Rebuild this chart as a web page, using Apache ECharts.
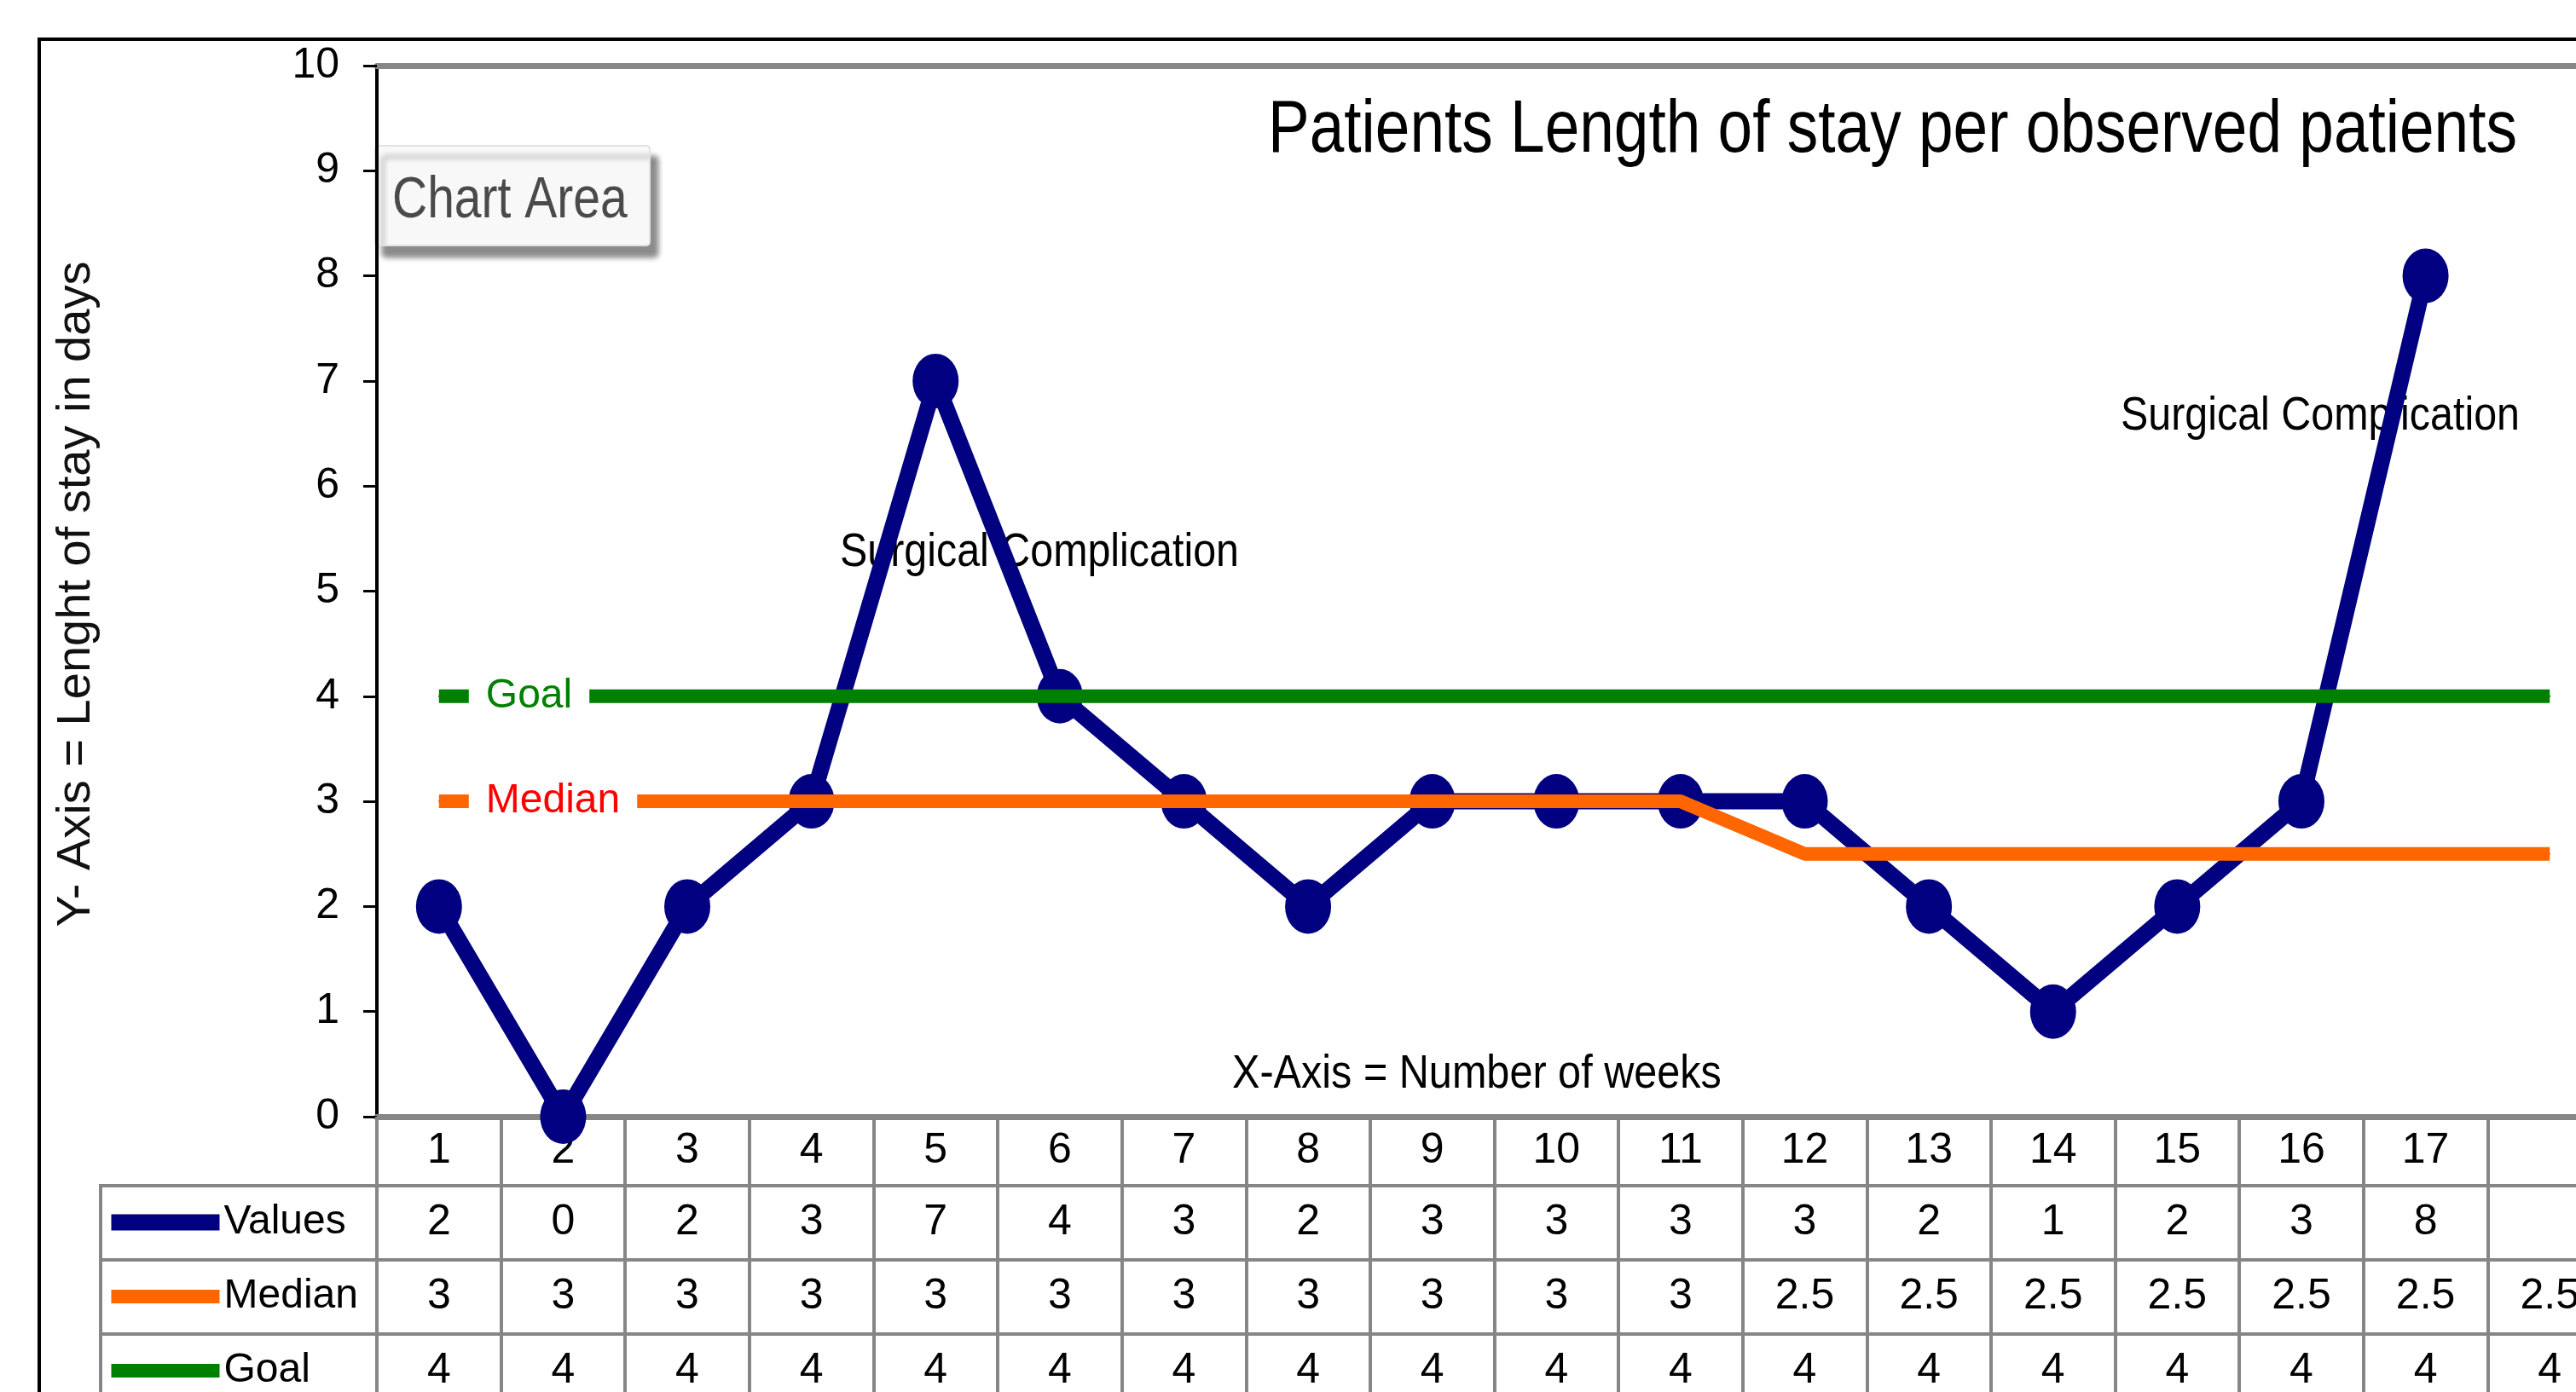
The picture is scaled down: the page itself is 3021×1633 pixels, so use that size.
<!DOCTYPE html>
<html>
<head>
<meta charset="utf-8">
<script src="https://cdn.jsdelivr.net/npm/echarts/dist/echarts.min.js"></script>
<style>
html,body{margin:0;padding:0;background:#fff;}
#chart{width:3021px;height:1633px;}
</style>
</head>
<body>
<div id="chart"></div>
<script>
// ---- data ----
const categories = ['1','2','3','4','5','6','7','8','9','10','11','12','13','14','15','16','17',''];
const valuesData = [2,0,2,3,7,4,3,2,3,3,3,3,2,1,2,3,8];
const medianData = [3,3,3,3,3,3,3,3,3,3,3,2.5,2.5,2.5,2.5,2.5,2.5,2.5];
const goalData   = [4,4,4,4,4,4,4,4,4,4,4,4,4,4,4,4,4,4];
const seriesNames = ['Values','Median','Goal'];
const titleText = 'Patients Length of stay per observed patients';
const yAxisTitle = 'Y- Axis = Lenght of stay in days';
const xAxisTitle = 'X-Axis = Number of weeks';
const annotationText = 'Surgical Complication';

// ---- styling ----
const fontR = "'Liberation Sans',Arial,sans-serif";
const GRIDC = '#868686';
const NAVY = '#000080', ORANGE = '#FF6600', GREEN = '#008000';
const LBL = 48;      // legend / series label texts
const NUM = 50;      // axis and table numbers
const STRETCH = 1.16; // vertical stretch of free texts (narrow-font look)

function rowLabels(arr){ return categories.map((c,i)=> (arr[i]==null ? '' : String(arr[i]))); }

function tableAxis(labels, offset, margin, tickLen, lineW){
  return {
    type:'category', position:'bottom', offset: offset, data: labels, boundaryGap:true,
    axisLine:{show:true, onZero:false, lineStyle:{color:GRIDC, width:lineW}},
    axisTick:{show:true, alignWithLabel:false, interval:0, length:tickLen, inside:false, lineStyle:{color:GRIDC, width:4}},
    axisLabel:{show:true, interval:0, margin: margin, verticalAlign:'middle', fontSize:NUM, fontFamily:fontR, color:'#000'},
    splitLine:{show:false}, axisPointer:{show:false}
  };
}

function freeText(text, x, y, size, extra){
  return Object.assign({
    type:'text', silent:true, x:x, y:y, scaleY:STRETCH, z:0,
    style:{text:text, fontSize:size, fontFamily:fontR, fill:'#000',
           align:'left', verticalAlign:'middle', textAlign:'left', textVerticalAlign:'middle'}
  }, extra || {});
}

const chart = echarts.init(document.getElementById('chart'), null, {renderer:'canvas'});

const option = {
  animation:false,
  backgroundColor:'#fff',
  textStyle:{fontFamily:fontR},
  legend:{
    show:true, orient:'vertical', left:121, top:1410, height:400, padding:0, itemGap:39,
    itemWidth:127, itemHeight:16, selectedMode:false,
    textStyle:{fontSize:LBL, fontFamily:fontR, color:'#000'},
    data:[
      {name:seriesNames[0], lineStyle:{width:19}},
      {name:seriesNames[1], lineStyle:{width:16}},
      {name:seriesNames[2], lineStyle:{width:16}}
    ]
  },
  grid:{left:442, top:77, right:-42, bottom:323, containLabel:false, outerBoundsMode:'none'},
  xAxis:[
    tableAxis(categories, 0, 40, 81, 7),
    tableAxis(rowLabels(valuesData), 81, 43, 87, 4),
    tableAxis(rowLabels(medianData), 168, 43, 87, 4),
    tableAxis(rowLabels(goalData), 255, 43, 87, 4),
    {
      type:'category', position:'top', data:categories, boundaryGap:true,
      axisLine:{show:true, onZero:false, lineStyle:{color:GRIDC, width:7}},
      axisTick:{show:false}, axisLabel:{show:false}, splitLine:{show:false}
    }
  ],
  yAxis:{
    type:'value', min:0, max:10, interval:1,
    axisLine:{show:true, onZero:false, lineStyle:{color:'#000', width:4}},
    axisTick:{show:true, inside:false, length:16, lineStyle:{color:'#000', width:3}},
    axisLabel:{show:true, margin:44, fontSize:NUM, fontFamily:fontR, color:'#000'},
    splitLine:{show:false}
  },
  series:[
    {
      name:seriesNames[0], type:'line', z:2, xAxisIndex:0, data:valuesData,
      symbol:'circle', symbolSize:[54,64], clip:false,
      lineStyle:{color:NAVY, width:19}, itemStyle:{color:NAVY},
      emphasis:{disabled:true}, silent:true
    },
    {
      name:seriesNames[1], type:'line', z:3, xAxisIndex:0,
      data: medianData.map((v,i)=> i===0 ? {value:v, label:{show:true}} : v),
      symbol:'circle', symbolSize:2, showAllSymbol:true, clip:false,
      lineStyle:{color:ORANGE, width:16}, itemStyle:{color:ORANGE},
      label:{show:false, position:'right', distance:34, formatter:'{a}', color:'#FF0000',
             fontSize:LBL, fontFamily:fontR, backgroundColor:'#fff', padding:[0,20,0,20]},
      emphasis:{disabled:true}, silent:true
    },
    {
      name:seriesNames[2], type:'line', z:4, xAxisIndex:0,
      data: goalData.map((v,i)=> i===0 ? {value:v, label:{show:true}} : v),
      symbol:'circle', symbolSize:2, showAllSymbol:true, clip:false,
      lineStyle:{color:GREEN, width:16}, itemStyle:{color:GREEN},
      label:{show:false, position:'right', distance:34, formatter:'{a}', color:GREEN,
             fontSize:LBL, fontFamily:fontR, backgroundColor:'#fff', padding:[0,20,0,20]},
      emphasis:{disabled:true}, silent:true
    }
  ],
  graphic:[
    // outer chart border
    {type:'rect', silent:true, z:-1, shape:{x:46, y:46, width:3200, height:1800},
     style:{fill:'none', stroke:'#000', lineWidth:4}},
    // legend column of the data table
    {type:'line', silent:true, shape:{x1:118, y1:1391, x2:442, y2:1391}, style:{stroke:GRIDC, lineWidth:4}},
    {type:'line', silent:true, shape:{x1:118, y1:1478, x2:442, y2:1478}, style:{stroke:GRIDC, lineWidth:4}},
    {type:'line', silent:true, shape:{x1:118, y1:1565, x2:442, y2:1565}, style:{stroke:GRIDC, lineWidth:4}},
    {type:'line', silent:true, shape:{x1:118, y1:1389, x2:118, y2:1700}, style:{stroke:GRIDC, lineWidth:4}},
    // chart title
    freeText(titleText, 1487, 154, 73, {scaleY:1.19}),
    // axis titles
    {type:'text', silent:true, x:90, y:697, rotation:Math.PI/2,
     style:{text:yAxisTitle, fontSize:56, fontFamily:fontR, fill:'#111',
            align:'center', verticalAlign:'middle', textAlign:'center', textVerticalAlign:'middle'}},
    freeText(xAxisTitle, 1445, 1260, 48.6),
    // annotations
    freeText(annotationText, 985, 649, 48.4),
    freeText(annotationText, 2487, 489, 48.4),
    // "Chart Area" hover tag
    {type:'group', silent:true, z:100, children:[
      {type:'rect', shape:{x:440, y:171, width:322, height:117, r:4},
       style:{fill:'#f8f8f8', stroke:'#e2e2e2', lineWidth:2,
              shadowBlur:6, shadowOffsetX:9, shadowOffsetY:13, shadowColor:'rgba(0,0,0,0.45)'}},
      freeText('Chart Area', 460, 236, 57, {scaleY:1.2, style:{text:'Chart Area', fontSize:57, fontFamily:fontR,
        fill:'#4a4a4a', align:'left', verticalAlign:'middle', textAlign:'left', textVerticalAlign:'middle'}})
    ]}
  ]
};
chart.setOption(option);
</script>
</body>
</html>
